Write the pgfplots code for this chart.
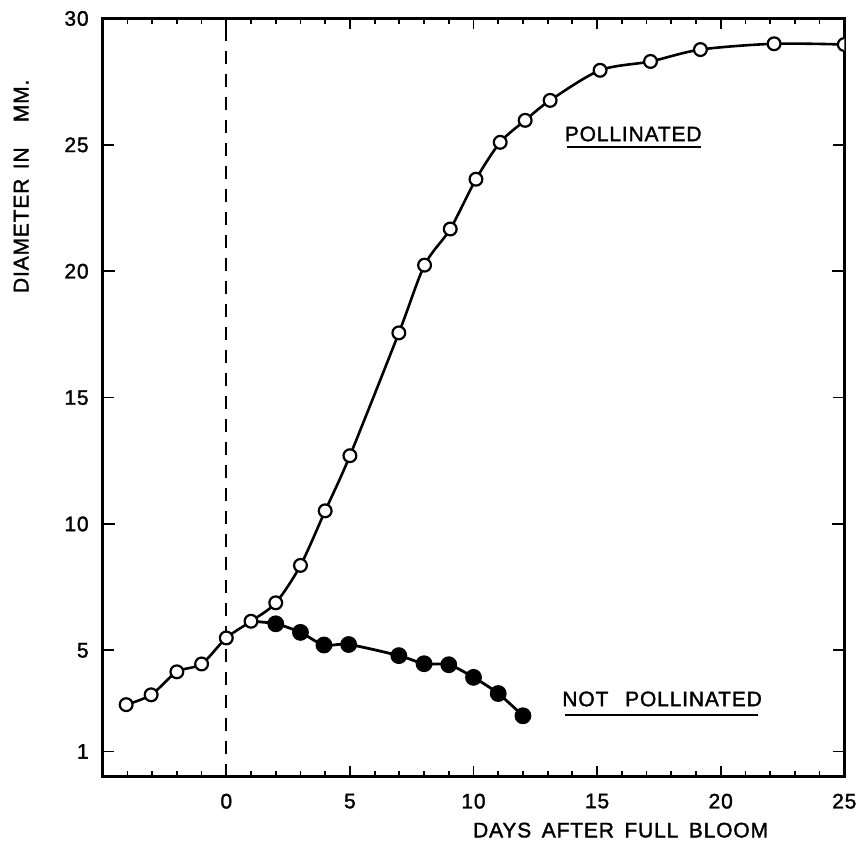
\documentclass[border=0pt]{standalone}
\usepackage{fontspec}
\setmainfont[FakeBold=1.6]{Liberation Sans}
\newfontfamily\lettering[FakeBold=1.6, LetterSpace=4]{Liberation Sans}
\usepackage{pgfplots}
\pgfplotsset{compat=1.18}
\begin{document}
\begin{tikzpicture}
\begin{axis}[
  scale only axis,
  width=370.8pt, height=379.1pt,
  xmin=-5, xmax=25, ymin=0, ymax=30,
  axis line style={line width=1.6pt},
  tick style={line width=0.9pt, black},
  tick align=inside,
  xtick={0,5,10,15,20,25},
  minor xtick={-4,-3,-2,-1,1,2,3,4,6,7,8,9,11,12,13,14,16,17,18,19,21,22,23,24},
  major tick length=5.5pt,
  minor tick length=2.6pt,
  ytick={1,5,15,25},
  extra y ticks={10,20,30},
  extra y tick style={major tick length=6pt, tick style={line width=0.9pt, black}},
  /pgf/number format/assume math mode=true,
  tick label style={font=\lettering\fontsize{10.5}{12}\selectfont},
  xticklabel style={yshift=-5pt},
  yticklabel style={xshift=-3.5pt},
  clip=true,
  clip marker paths=true,
]
\addplot[line width=1.1pt, dash pattern=on 6.5pt off 5pt] coordinates {(0,0) (0,30)};
\addplot[line width=1.4pt, smooth, mark=*, mark size=3.5pt, mark options={fill=black}, mark indices={2,...,12}]
  coordinates {(1,6.15) (2,6.05) (3,5.71) (3.95,5.21) (4.95,5.23) (6.98,4.79) (8,4.47) (9,4.43) (10,3.93) (11,3.29) (12,2.41)};
\addplot[line width=1.3pt, smooth, mark=*, mark size=3.2pt, mark options={fill=white, line width=1.1pt}]
  coordinates {(-4.05,2.85) (-3.04,3.24) (-2,4.15) (-1,4.46) (0,5.49) (1,6.15) (2,6.88) (3,8.36) (4,10.52) (5,12.7) (6.98,17.56) (8.02,20.24) (9.06,21.67) (10.1,23.64) (11.08,25.1) (12.09,25.97) (13.1,26.76) (15.12,27.95) (17.16,28.3) (19.18,28.77) (22.16,29.0) (25,28.97)};
\coordinate (ylab) at (axis cs:-8.3,23.36);
\coordinate (xlab) at (axis cs:15.95,-2.115);
\coordinate (pol) at (axis cs:16.46,25.43);
\coordinate (polA) at (axis cs:13.8,24.91);
\coordinate (polB) at (axis cs:19.2,24.91);
\coordinate (npol) at (axis cs:17.63,3.075);
\coordinate (npolA) at (axis cs:13.71,2.45);
\coordinate (npolB) at (axis cs:21.5,2.45);
\end{axis}
\node[rotate=90, font=\lettering\fontsize{10.5}{12}\selectfont, inner sep=0pt] at (ylab) {DIAMETER\hspace{0.45em}IN\hspace{1.2em}MM.};
\node[font=\lettering\fontsize{10.5}{12}\selectfont, inner sep=0pt] at (xlab) {DAYS\hspace{0.5em}AFTER\hspace{0.5em}FULL\hspace{0.5em}BLOOM};
\node[font=\lettering\fontsize{10.5}{12}\selectfont, inner sep=0pt] at (pol) {POLLINATED};
\draw[line width=1.2pt] (polA) -- (polB);
\node[font=\lettering\fontsize{10.5}{12}\selectfont, inner sep=0pt] at (npol) {NOT\hspace{0.8em}POLLINATED};
\draw[line width=1.2pt] (npolA) -- (npolB);
\pgfresetboundingbox
\path[use as bounding box] ([xshift=-51.35pt,yshift=-35.65pt]current axis.south west) rectangle ([xshift=10.85pt,yshift=9.25pt]current axis.north east);
\end{tikzpicture}
\end{document}
